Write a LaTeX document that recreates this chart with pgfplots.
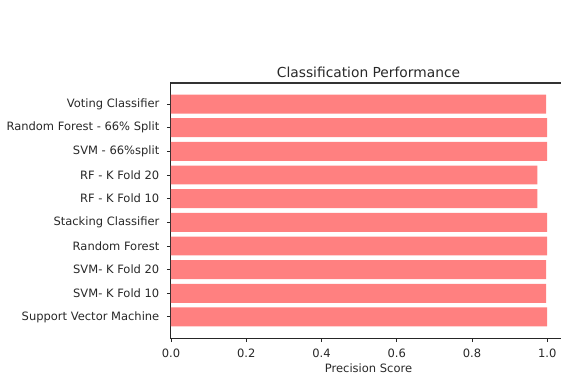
\documentclass[border=0pt]{standalone}
\usepackage{pgfplots}
\pgfplotsset{compat=1.18}
\usepackage{fontspec}
\setmainfont{DejaVu Sans}
\definecolor{barred}{RGB}{255,128,128}
\definecolor{txt}{RGB}{40,40,40}
\pgfplotstableread{
y v
0 1.000
1 0.997
2 0.997
3 1.000
4 1.000
5 0.974
6 0.974
7 1.000
8 1.000
9 0.997
}\scores
\begin{document}
\begin{tikzpicture}
\begin{axis}[
  width=395bp, height=255bp, scale only axis,
  axis lines=box,
  xbar, bar width=0.8, bar shift=0pt,
  xmin=0, xmax=1.05, ymin=-0.89, ymax=9.89,
  ytick={0,...,9},
  yticklabels={Support Vector Machine, SVM- K Fold 10, SVM- K Fold 20, Random Forest, Stacking Classifier, RF - K Fold 10, RF - K Fold 20, SVM - 66\%split, Random Forest - 66\% Split, Voting Classifier},
  xtick={0,0.2,0.4,0.6,0.8,1.0},
  /pgf/number format/fixed, /pgf/number format/fixed zerofill, /pgf/number format/precision=1, /pgf/number format/assume math mode=true,
  xtick pos=left, ytick pos=left,
  tick align=outside, major tick length=4bp,
  tick style={black!85, line width=0.9bp},
  axis line style={black!85, line width=1bp},
  ticklabel style={font=\fontsize{11.5bp}{13bp}\selectfont, text=txt},
  xticklabel style={anchor=north, inner sep=0pt, yshift=-7bp},
  yticklabel style={anchor=east, inner sep=0pt, xshift=-7.5bp},
  title={Classification Performance},
  title style={font=\fontsize{13.8bp}{16bp}\selectfont, text=txt, anchor=south, at={(0.5,1)}, yshift=-1bp, inner sep=0pt},
  xlabel={Precision Score},
  xlabel style={font=\fontsize{11.5bp}{13bp}\selectfont, text=txt, at={(0.5,0)}, anchor=north, yshift=-26bp, inner sep=0pt},
  extra description/.code={\draw[black!80, line width=1.6bp] (rel axis cs:0,1) -- (rel axis cs:1,1);},
]
\addplot[fill=barred, draw=none] table[x=v, y=y] {\scores};
\end{axis}
\pgfresetboundingbox
\useasboundingbox (-171bp,-37bp) rectangle (390bp,338bp);
\end{tikzpicture}
\end{document}
